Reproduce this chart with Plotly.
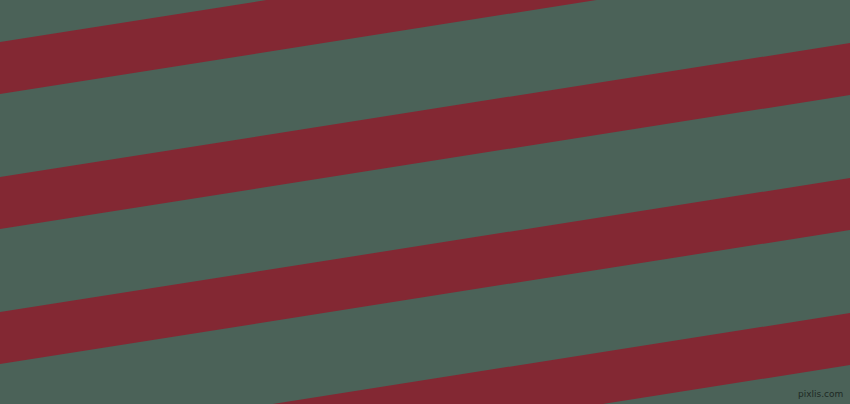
import plotly.graph_objects as go

# Stripe data
stripe_offsets = [42, 177, 312, 447]   # left-edge intercept of each stripe's upper edge
stripe_thickness = 52                  # vertical thickness of a stripe
stripe_slope = 0.1576                  # rise per unit run (about 9 degrees)
canvas_width = 850
canvas_height = 404

background_color = "#4b6258"
stripe_color = "#832833"

fig = go.Figure()
for off in stripe_offsets:
    xs = [0, canvas_width, canvas_width, 0, 0]
    ys = [off,
          off - stripe_slope * canvas_width,
          off + stripe_thickness - stripe_slope * canvas_width,
          off + stripe_thickness,
          off]
    fig.add_trace(go.Scatter(x=xs, y=ys, mode="lines", fill="toself",
                             fillcolor=stripe_color, line=dict(width=0, color=stripe_color),
                             hoverinfo="skip", showlegend=False))

fig.add_annotation(x=canvas_width - 5, y=canvas_height - 3, xref="x", yref="y",
                   text="pixlis.com", showarrow=False, xanchor="right", yanchor="bottom",
                   font=dict(family="DejaVu Sans", size=9, color="#1e2a25"))

fig.update_layout(
    width=850, height=404,
    margin=dict(l=0, r=0, t=0, b=0),
    paper_bgcolor=background_color,
    plot_bgcolor=background_color,
    xaxis=dict(range=[0, canvas_width], visible=False, fixedrange=True),
    yaxis=dict(range=[canvas_height, 0], visible=False, fixedrange=True),
)

fig.write_html(
    "out.html",
    config={"displayModeBar": False},
    post_script="document.body.style.margin='0';document.body.style.overflow='hidden';",
)
